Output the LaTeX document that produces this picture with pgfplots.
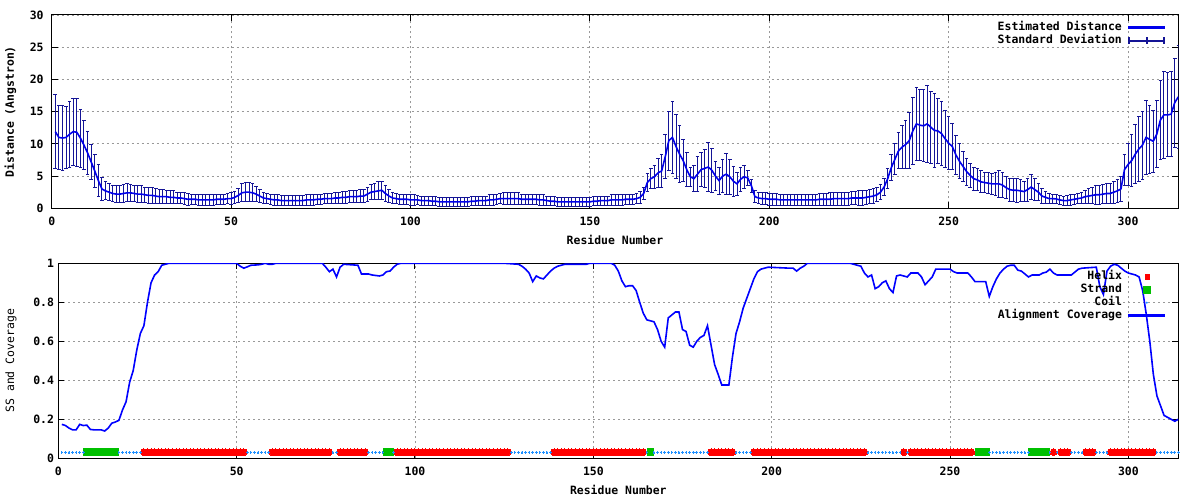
\documentclass[border=0pt]{standalone}
\usepackage{fontspec}
\setmainfont{DejaVu Sans Mono}
\usepackage{pgfplots}
\usepackage{pgfplotstable}
\pgfplotsset{compat=1.18}

\definecolor{lineblue}{RGB}{0,0,235}
\definecolor{errcol}{RGB}{20,20,150}
\definecolor{covblue}{RGB}{0,0,255}
\definecolor{helixred}{RGB}{255,0,0}
\definecolor{strandgreen}{RGB}{0,192,0}
\definecolor{coilblue}{RGB}{30,144,255}

% residue, estimated distance, standard deviation
\pgfplotstableread[row sep=\\]{
r d s\\
1 11.9 5.7\\ 2 11.0 5.0\\ 3 10.9 5.1\\ 4 11.0 4.8\\ 5 11.5 5.1\\ 6 11.9 5.2\\ 7 11.8 5.3\\ 8 10.9 4.5\\
9 9.8 3.8\\ 10 8.6 3.3\\ 11 7.2 2.7\\ 12 5.8 2.6\\ 13 4.3 2.5\\ 14 3.0 1.8\\ 15 2.7 1.4\\ 16 2.5 1.3\\
17 2.3 1.3\\ 18 2.2 1.3\\ 19 2.2 1.3\\ 20 2.3 1.4\\ 21 2.4 1.4\\ 22 2.4 1.3\\ 23 2.3 1.3\\ 24 2.2 1.3\\
25 2.2 1.3\\ 26 2.1 1.2\\ 27 2.0 1.2\\ 28 2.0 1.2\\ 29 1.9 1.2\\ 30 1.8 1.1\\ 31 1.8 1.1\\ 32 1.8 1.0\\
33 1.7 1.0\\ 34 1.7 1.0\\ 35 1.6 0.9\\ 36 1.6 0.9\\ 37 1.5 0.9\\ 38 1.4 0.9\\ 39 1.4 0.8\\ 40 1.4 0.8\\
41 1.3 0.8\\ 42 1.3 0.8\\ 43 1.3 0.8\\ 44 1.3 0.8\\ 45 1.3 0.8\\ 46 1.4 0.8\\ 47 1.4 0.8\\ 48 1.4 0.8\\
49 1.5 0.8\\ 50 1.5 0.9\\ 51 1.7 0.9\\ 52 2.0 1.1\\ 53 2.4 1.4\\ 54 2.5 1.5\\ 55 2.5 1.5\\ 56 2.4 1.4\\
57 2.2 1.2\\ 58 1.9 1.0\\ 59 1.6 0.9\\ 60 1.5 0.8\\ 61 1.4 0.8\\ 62 1.3 0.8\\ 63 1.3 0.8\\ 64 1.2 0.8\\
65 1.2 0.8\\ 66 1.2 0.8\\ 67 1.2 0.8\\ 68 1.2 0.8\\ 69 1.2 0.8\\ 70 1.2 0.8\\ 71 1.3 0.8\\ 72 1.3 0.8\\
73 1.3 0.8\\ 74 1.4 0.8\\ 75 1.4 0.8\\ 76 1.5 0.8\\ 77 1.5 0.8\\ 78 1.5 0.8\\ 79 1.6 0.9\\ 80 1.6 0.9\\
81 1.7 0.9\\ 82 1.7 0.9\\ 83 1.8 0.9\\ 84 1.8 0.9\\ 85 1.8 0.9\\ 86 1.9 1.0\\ 87 1.9 1.0\\ 88 2.2 1.1\\
89 2.5 1.2\\ 90 2.6 1.3\\ 91 2.7 1.4\\ 92 2.8 1.4\\ 93 2.3 1.2\\ 94 1.9 1.0\\ 95 1.6 0.9\\ 96 1.5 0.8\\
97 1.4 0.8\\ 98 1.4 0.8\\ 99 1.4 0.8\\ 100 1.3 0.8\\ 101 1.3 0.8\\ 102 1.3 0.7\\ 103 1.2 0.7\\ 104 1.2 0.7\\
105 1.2 0.7\\ 106 1.1 0.7\\ 107 1.1 0.7\\ 108 1.0 0.7\\ 109 1.0 0.7\\ 110 1.0 0.7\\ 111 1.0 0.7\\ 112 1.0 0.7\\
113 1.0 0.7\\ 114 1.0 0.7\\ 115 1.0 0.7\\ 116 1.0 0.7\\ 117 1.1 0.7\\ 118 1.1 0.7\\ 119 1.2 0.7\\ 120 1.2 0.7\\
121 1.2 0.7\\ 122 1.3 0.8\\ 123 1.3 0.8\\ 124 1.4 0.8\\ 125 1.5 0.8\\ 126 1.5 0.9\\ 127 1.5 0.9\\ 128 1.5 0.9\\
129 1.5 0.9\\ 130 1.5 0.9\\ 131 1.4 0.8\\ 132 1.4 0.8\\ 133 1.4 0.8\\ 134 1.4 0.8\\ 135 1.4 0.8\\ 136 1.3 0.8\\
137 1.3 0.8\\ 138 1.2 0.7\\ 139 1.1 0.7\\ 140 1.1 0.7\\ 141 1.0 0.7\\ 142 1.0 0.7\\ 143 1.0 0.7\\ 144 1.0 0.7\\
145 1.0 0.7\\ 146 1.0 0.7\\ 147 1.0 0.7\\ 148 1.0 0.7\\ 149 1.0 0.7\\ 150 1.0 0.7\\ 151 1.1 0.7\\ 152 1.1 0.7\\
153 1.2 0.7\\ 154 1.2 0.7\\ 155 1.2 0.7\\ 156 1.3 0.8\\ 157 1.3 0.8\\ 158 1.3 0.8\\ 159 1.3 0.8\\ 160 1.4 0.8\\
161 1.4 0.8\\ 162 1.4 0.8\\ 163 1.5 0.8\\ 164 1.7 0.9\\ 165 2.3 1.0\\ 166 4.0 1.4\\ 167 4.6 1.5\\ 168 4.9 1.8\\
169 5.5 2.3\\ 170 5.8 2.6\\ 171 8.0 3.4\\ 172 10.5 4.6\\ 173 11.0 5.6\\ 174 9.6 5.0\\ 175 8.4 4.4\\ 176 7.4 3.3\\
177 6.0 2.6\\ 178 4.9 1.5\\ 179 4.6 2.0\\ 180 5.3 2.7\\ 181 6.0 2.6\\ 182 6.2 3.0\\ 183 6.4 3.8\\ 184 5.9 3.4\\
185 5.0 2.3\\ 186 4.3 2.1\\ 187 5.0 2.5\\ 188 5.3 3.2\\ 189 4.9 2.7\\ 190 4.2 2.3\\ 191 3.8 1.8\\ 192 4.5 1.9\\
193 4.9 1.8\\ 194 4.7 1.2\\ 195 3.5 1.0\\ 196 1.8 0.9\\ 197 1.6 0.9\\ 198 1.5 0.9\\ 199 1.5 0.9\\ 200 1.4 0.9\\
201 1.4 0.9\\ 202 1.4 0.9\\ 203 1.3 0.9\\ 204 1.3 0.9\\ 205 1.3 0.9\\ 206 1.3 0.9\\ 207 1.3 0.9\\ 208 1.3 0.9\\
209 1.3 0.9\\ 210 1.3 0.9\\ 211 1.3 0.9\\ 212 1.3 0.9\\ 213 1.3 0.9\\ 214 1.4 0.9\\ 215 1.4 0.9\\ 216 1.4 0.9\\
217 1.4 1.0\\ 218 1.5 1.0\\ 219 1.5 1.0\\ 220 1.5 1.0\\ 221 1.5 1.0\\ 222 1.5 1.0\\ 223 1.6 1.0\\ 224 1.6 1.0\\
225 1.6 1.1\\ 226 1.6 1.1\\ 227 1.7 1.1\\ 228 1.8 1.1\\ 229 1.9 1.1\\ 230 2.1 1.1\\ 231 2.5 1.2\\ 232 3.3 1.3\\
233 4.6 1.6\\ 234 6.3 2.0\\ 235 7.6 2.4\\ 236 8.9 2.8\\ 237 9.5 3.3\\ 238 9.9 3.8\\ 239 10.5 4.3\\ 240 12.0 5.2\\
241 13.1 5.7\\ 242 12.9 5.5\\ 243 12.8 5.6\\ 244 13.1 6.0\\ 245 12.6 5.6\\ 246 12.1 5.7\\ 247 12.0 5.1\\ 248 11.6 5.0\\
249 10.8 4.4\\ 250 10.1 4.1\\ 251 9.6 3.6\\ 252 8.3 3.0\\ 253 7.3 2.7\\ 254 6.5 2.3\\ 255 5.7 2.1\\ 256 5.1 1.9\\
257 4.6 1.8\\ 258 4.4 1.7\\ 259 4.1 1.7\\ 260 4.0 1.6\\ 261 3.9 1.6\\ 262 3.8 1.6\\ 263 3.8 1.8\\ 264 3.8 2.1\\
265 3.6 2.0\\ 266 3.2 1.7\\ 267 2.9 1.8\\ 268 2.8 1.8\\ 269 2.8 1.9\\ 270 2.7 1.7\\ 271 2.6 1.6\\ 272 2.9 1.8\\
273 3.3 1.9\\ 274 2.9 1.7\\ 275 2.5 1.3\\ 276 1.9 1.1\\ 277 1.7 0.9\\ 278 1.5 0.8\\ 279 1.5 0.7\\ 280 1.45 0.7\\
281 1.3 0.7\\ 282 1.2 0.7\\ 283 1.2 0.8\\ 284 1.3 0.8\\ 285 1.4 0.8\\ 286 1.5 0.8\\ 287 1.6 0.9\\ 288 1.8 1.0\\
289 1.9 1.1\\ 290 2.0 1.3\\ 291 2.1 1.5\\ 292 2.1 1.5\\ 293 2.2 1.5\\ 294 2.3 1.5\\ 295 2.3 1.5\\ 296 2.5 1.7\\
297 2.7 1.8\\ 298 3.0 1.9\\ 299 6.0 2.4\\ 300 6.8 3.2\\ 301 7.4 4.0\\ 302 8.4 4.6\\ 303 9.2 5.1\\ 304 9.8 5.3\\
305 11.0 5.7\\ 306 10.7 5.3\\ 307 10.4 4.8\\ 308 11.5 5.2\\ 309 13.7 6.2\\ 310 14.5 6.7\\ 311 14.5 6.5\\ 312 14.6 6.6\\
313 16.4 6.9\\ 314 17.3 8.0\\
}\dist

% residue, alignment coverage
\pgfplotstableread[row sep=\\]{
r c\\
1 .174\\ 2 .168\\ 3 .155\\ 4 .146\\ 5 .146\\ 6 .174\\ 7 .168\\ 8 .170\\ 9 .148\\ 10 .146\\
11 .146\\ 12 .146\\ 13 .140\\ 14 .155\\ 15 .180\\ 16 .186\\ 17 .195\\ 18 .248\\ 19 .290\\ 20 .390\\
21 .450\\ 22 .555\\ 23 .640\\ 24 .680\\ 25 .800\\ 26 .900\\ 27 .940\\ 28 .957\\ 29 .990\\ 30 .995\\
31 1\\ 50 1\\ 51 .985\\ 52 .975\\ 53 .982\\ 54 .99\\ 56 .992\\ 57 .995\\ 58 1\\ 59 .995\\ 60 .995\\
61 1\\ 74 1\\ 75 .98\\ 76 .957\\ 77 .970\\ 78 .930\\ 79 .980\\ 80 .995\\ 84 .99\\ 85 .945\\
87 .945\\ 88 .940\\ 90 .935\\ 91 .94\\ 92 .957\\ 93 .96\\ 94 .98\\ 95 .995\\ 96 1\\ 125 1\\
129 .995\\ 130 .985\\ 131 .970\\ 132 .950\\ 133 .906\\ 134 .935\\ 135 .925\\ 136 .920\\ 137 .940\\ 138 .960\\
139 .975\\ 140 .985\\ 141 .99\\ 142 .995\\ 148 .995\\ 149 1\\ 155 1\\ 156 .99\\ 157 .96\\ 158 .91\\
159 .88\\ 160 .885\\ 161 .885\\ 162 .86\\ 163 .80\\ 164 .744\\ 165 .71\\ 166 .705\\ 167 .70\\ 168 .66\\
169 .60\\ 170 .57\\ 171 .72\\ 172 .735\\ 173 .75\\ 174 .75\\ 175 .66\\ 176 .65\\ 177 .58\\ 178 .57\\
179 .60\\ 180 .62\\ 181 .63\\ 182 .68\\ 183 .58\\ 184 .48\\ 185 .43\\ 186 .376\\ 188 .376\\ 189 .52\\
190 .64\\ 191 .70\\ 192 .77\\ 193 .82\\ 194 .87\\ 195 .92\\ 196 .957\\ 197 .97\\ 198 .975\\ 199 .98\\
205 .975\\ 206 .975\\ 207 .96\\ 208 .975\\ 209 .985\\ 210 1\\ 222 1\\ 223 .995\\ 224 .99\\ 225 .985\\
226 .95\\ 227 .93\\ 228 .94\\ 229 .87\\ 230 .88\\ 231 .90\\ 232 .91\\ 233 .87\\ 234 .85\\ 235 .935\\
236 .94\\ 237 .935\\ 238 .93\\ 239 .95\\ 241 .95\\ 242 .93\\ 243 .89\\ 244 .91\\ 245 .93\\ 246 .97\\
250 .97\\ 251 .957\\ 252 .95\\ 255 .95\\ 256 .93\\ 257 .906\\ 260 .906\\ 261 .83\\ 262 .88\\ 263 .92\\
264 .95\\ 265 .97\\ 266 .985\\ 267 .99\\ 268 .99\\ 269 .965\\ 270 .96\\ 271 .945\\ 272 .93\\ 273 .94\\
275 .94\\ 276 .95\\ 277 .955\\ 278 .97\\ 279 .95\\ 280 .94\\ 284 .94\\ 285 .955\\ 286 .97\\ 287 .975\\
291 .98\\ 292 .88\\ 293 .84\\ 294 .96\\ 295 .985\\ 296 .995\\ 297 .99\\ 298 .975\\ 299 .96\\ 300 .95\\
301 .945\\ 302 .94\\ 303 .93\\ 304 .86\\ 305 .74\\ 306 .60\\ 307 .43\\ 308 .32\\ 309 .27\\ 310 .22\\
311 .21\\ 312 .20\\ 313 .19\\ 314 .20\\
}\cover

% secondary structure, one row per residue
\pgfplotstableread[row sep=\\]{
r y\\
24 .031\\ 25 .031\\ 26 .031\\ 27 .031\\ 28 .031\\ 29 .031\\ 30 .031\\ 31 .031\\ 32 .031\\ 33 .031\\
34 .031\\ 35 .031\\ 36 .031\\ 37 .031\\ 38 .031\\ 39 .031\\ 40 .031\\ 41 .031\\ 42 .031\\ 43 .031\\
44 .031\\ 45 .031\\ 46 .031\\ 47 .031\\ 48 .031\\ 49 .031\\ 50 .031\\ 51 .031\\ 52 .031\\
60 .031\\ 61 .031\\ 62 .031\\ 63 .031\\ 64 .031\\ 65 .031\\ 66 .031\\ 67 .031\\ 68 .031\\ 69 .031\\
70 .031\\ 71 .031\\ 72 .031\\ 73 .031\\ 74 .031\\ 75 .031\\ 76 .031\\
79 .031\\ 80 .031\\ 81 .031\\ 82 .031\\ 83 .031\\ 84 .031\\ 85 .031\\ 86 .031\\
95 .031\\ 96 .031\\ 97 .031\\ 98 .031\\ 99 .031\\ 100 .031\\ 101 .031\\ 102 .031\\ 103 .031\\ 104 .031\\
105 .031\\ 106 .031\\ 107 .031\\ 108 .031\\ 109 .031\\ 110 .031\\ 111 .031\\ 112 .031\\ 113 .031\\ 114 .031\\
115 .031\\ 116 .031\\ 117 .031\\ 118 .031\\ 119 .031\\ 120 .031\\ 121 .031\\ 122 .031\\ 123 .031\\ 124 .031\\
125 .031\\ 126 .031\\
139 .031\\ 140 .031\\ 141 .031\\ 142 .031\\ 143 .031\\ 144 .031\\ 145 .031\\ 146 .031\\ 147 .031\\ 148 .031\\
149 .031\\ 150 .031\\ 151 .031\\ 152 .031\\ 153 .031\\ 154 .031\\ 155 .031\\ 156 .031\\ 157 .031\\ 158 .031\\
159 .031\\ 160 .031\\ 161 .031\\ 162 .031\\ 163 .031\\ 164 .031\\
183 .031\\ 184 .031\\ 185 .031\\ 186 .031\\ 187 .031\\ 188 .031\\ 189 .031\\
195 .031\\ 196 .031\\ 197 .031\\ 198 .031\\ 199 .031\\ 200 .031\\ 201 .031\\ 202 .031\\ 203 .031\\ 204 .031\\
205 .031\\ 206 .031\\ 207 .031\\ 208 .031\\ 209 .031\\ 210 .031\\ 211 .031\\ 212 .031\\ 213 .031\\ 214 .031\\
215 .031\\ 216 .031\\ 217 .031\\ 218 .031\\ 219 .031\\ 220 .031\\ 221 .031\\ 222 .031\\ 223 .031\\ 224 .031\\
225 .031\\ 226 .031\\
237 .031\\ 239 .031\\ 240 .031\\ 241 .031\\ 242 .031\\ 243 .031\\ 244 .031\\ 245 .031\\ 246 .031\\ 247 .031\\
248 .031\\ 249 .031\\ 250 .031\\ 251 .031\\ 252 .031\\ 253 .031\\ 254 .031\\ 255 .031\\ 256 .031\\
279 .031\\ 281 .031\\ 282 .031\\ 283 .031\\ 288 .031\\ 289 .031\\ 290 .031\\
295 .031\\ 296 .031\\ 297 .031\\ 298 .031\\ 299 .031\\ 300 .031\\ 301 .031\\ 302 .031\\ 303 .031\\ 304 .031\\
305 .031\\ 306 .031\\ 307 .031\\
}\helix

\pgfplotstableread[row sep=\\]{
r y\\
8 .031\\ 9 .031\\ 10 .031\\ 11 .031\\ 12 .031\\ 13 .031\\ 14 .031\\ 15 .031\\ 16 .031\\
92 .031\\ 93 .031\\ 166 .031\\ 258 .031\\ 259 .031\\ 260 .031\\
273 .031\\ 274 .031\\ 275 .031\\ 276 .031\\ 277 .031\\
}\strand

\pgfplotstableread[row sep=\\]{
r y\\
1 .031\\ 2 .031\\ 3 .031\\ 4 .031\\ 5 .031\\ 6 .031\\ 7 .031\\
17 .031\\ 18 .031\\ 19 .031\\ 20 .031\\ 21 .031\\ 22 .031\\ 23 .031\\
53 .031\\ 54 .031\\ 55 .031\\ 56 .031\\ 57 .031\\ 58 .031\\ 59 .031\\ 77 .031\\ 78 .031\\
87 .031\\ 88 .031\\ 89 .031\\ 90 .031\\ 91 .031\\ 94 .031\\
127 .031\\ 128 .031\\ 129 .031\\ 130 .031\\ 131 .031\\ 132 .031\\ 133 .031\\ 134 .031\\ 135 .031\\ 136 .031\\
137 .031\\ 138 .031\\ 165 .031\\
167 .031\\ 168 .031\\ 169 .031\\ 170 .031\\ 171 .031\\ 172 .031\\ 173 .031\\ 174 .031\\ 175 .031\\ 176 .031\\
177 .031\\ 178 .031\\ 179 .031\\ 180 .031\\ 181 .031\\ 182 .031\\
190 .031\\ 191 .031\\ 192 .031\\ 193 .031\\ 194 .031\\
227 .031\\ 228 .031\\ 229 .031\\ 230 .031\\ 231 .031\\ 232 .031\\ 233 .031\\ 234 .031\\ 235 .031\\ 236 .031\\
238 .031\\ 261 .031\\ 262 .031\\ 263 .031\\ 264 .031\\ 265 .031\\ 266 .031\\ 267 .031\\ 268 .031\\ 269 .031\\
270 .031\\ 271 .031\\ 272 .031\\ 278 .031\\ 280 .031\\ 284 .031\\ 285 .031\\ 286 .031\\ 287 .031\\
291 .031\\ 292 .031\\ 293 .031\\ 294 .031\\
308 .031\\ 309 .031\\ 310 .031\\ 311 .031\\ 312 .031\\ 313 .031\\ 314 .031\\
}\coil

\pgfplotsset{
  gp/.style={
    scale only axis,
    xmin=0, xmax=314,
    xtick={0,50,...,300},
    axis line style={line width=1bp},
    tick align=inside,
    major tick length=6bp,
    tick style={line width=1bp, black},
    grid=major,
    grid style={color=black!40, line width=0.8bp, dash pattern=on 2bp off 3bp},
    /pgf/number format/assume math mode=true,
    xticklabel style={anchor=center, yshift=-12.7bp},
    xlabel style={anchor=center},
    ylabel style={anchor=center},
    legend cell align=right,
    legend plot pos=right,
    legend style={draw=none, fill=none, anchor=north east,
      nodes={inner sep=0.5bp, text height=9bp, text depth=3bp},
      column sep=6bp, row sep=0bp},
  },
}

\begin{document}
\begin{tikzpicture}[font=\fontsize{11.5}{13}\selectfont\bfseries]
\useasboundingbox (0bp,0bp) rectangle (1200bp,500bp);

\begin{axis}[gp,
  at={(51.7bp,291.7bp)}, anchor=south west,
  width=1126.6bp, height=193.3bp,
  ymin=0, ymax=30, ytick={0,5,...,30},
  yticklabel style={xshift=-4.6bp},
  xlabel={Residue Number},
  xlabel style={at={(axis description cs:0.5,-0.164)}},
  ylabel={Distance (Angstron)},
  ylabel style={at={(axis description cs:-0.0366,0.5)}},
  legend style={at={(0.991,0.98)}},
]
\addplot[forget plot, errcol, draw=none, mark=none,
  error bars/.cd, y dir=both, y explicit,
  error mark=-,
  error bar style={draw=errcol, line width=1bp},
  error mark options={rotate=90, draw=errcol, line width=1bp, mark size=1.8bp}]
  table[x=r, y=d, y error=s] {\dist};
\addplot[lineblue, line width=1.6bp, mark=none,
  legend image code/.code={\fill[lineblue] (0bp,-0.8bp) rectangle (35bp,0.8bp);}]
  table[x=r, y=d] {\dist};
\addlegendentry{Estimated Distance}
\addlegendimage{legend image code/.code={
  \fill[errcol] (0bp,-0.5bp) rectangle (35bp,0.5bp);
  \fill[errcol] (-0.5bp,-3bp) rectangle (0.5bp,3bp);
  \fill[errcol] (17bp,-3bp) rectangle (18bp,3bp);
  \fill[errcol] (34.5bp,-3bp) rectangle (35.5bp,3bp);}}
\addlegendentry{Standard Deviation}
\end{axis}

\begin{axis}[gp,
  at={(58.3bp,41.7bp)}, anchor=south west,
  width=1120bp, height=195bp,
  ymin=0, ymax=1, ytick={0,0.2,...,1.0},
  yticklabel style={xshift=-0.8bp},
  xlabel={Residue Number},
  xlabel style={at={(axis description cs:0.5,-0.1626)}},
  ylabel={SS and Coverage},
  ylabel style={at={(axis description cs:-0.0422,0.5)}, font=\fontsize{11.5}{13}\selectfont\mdseries},
  legend style={at={(0.991,0.976)}},
]
\addplot[helixred, only marks, mark=*, mark size=3.3bp,
  mark options={solid, draw=helixred, fill=helixred, line width=0pt},
  legend image code/.code={\fill[helixred] (15.5bp,-2.5bp) rectangle (19.5bp,2.5bp);}]
  table[x=r, y=y] {\helix};
\addlegendentry{Helix}
\addplot[strandgreen, only marks, mark=square*, mark size=3.3bp,
  mark options={solid, draw=strandgreen, fill=strandgreen, line width=0pt},
  legend image code/.code={\fill[strandgreen] (14bp,-3.2bp) rectangle (21bp,3.2bp);}]
  table[x=r, y=y] {\strand};
\addlegendentry{Strand}
\addplot[coilblue, only marks, mark=*, mark size=0.8bp,
  mark options={solid, draw=coilblue, fill=coilblue, line width=0pt},
  legend image code/.code={\fill[coilblue] (17.5bp,0bp) circle (0.8bp);}]
  table[x=r, y=y] {\coil};
\addlegendentry{Coil}
\addplot[covblue, line width=1.6bp, mark=none,
  legend image code/.code={\fill[covblue] (0bp,-0.8bp) rectangle (35bp,0.8bp);}]
  table[x=r, y=c] {\cover};
\addlegendentry{Alignment Coverage}
\end{axis}
\end{tikzpicture}
\end{document}
